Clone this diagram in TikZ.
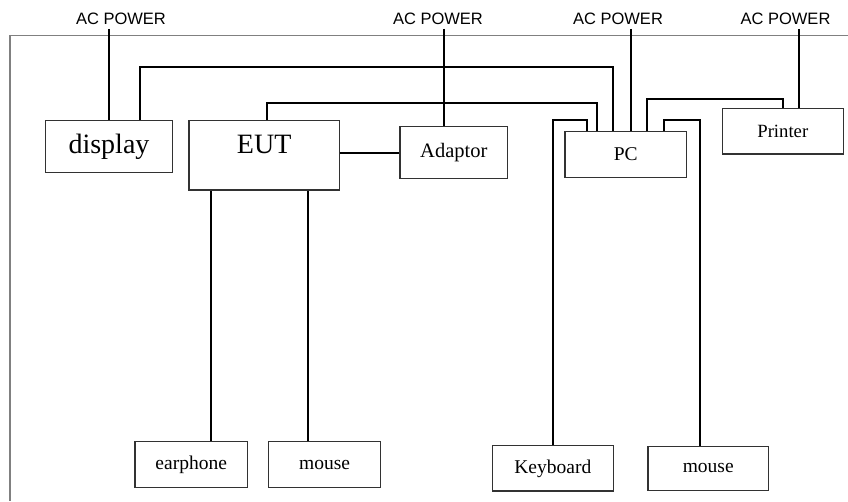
\documentclass[tikz,border=0pt]{standalone}
\usepackage{fontspec}
\setmainfont{Liberation Serif}
\newfontfamily\powerfont{Liberation Sans}
\usetikzlibrary{positioning}
\definecolor{framecolor}{RGB}{128, 128, 128}
\definecolor{boxcolor}{RGB}{50, 50, 50}

\begin{document}
\begin{tikzpicture}[
    x=1pt, y=-1pt,
    box/.style={rectangle, draw=boxcolor, line width=1.2pt, inner sep=0pt, font=\fontsize{19.5}{22}\selectfont},
    bigbox/.style={box, font=\fontsize{28}{32}\selectfont},
    power/.style={font=\powerfont\fontsize{16.5}{18}\selectfont, inner sep=0pt, outer sep=4.5pt, anchor=base},
    cable/.style={line width=2pt, black},
    frameline/.style={line width=1.3pt, framecolor}
]
\useasboundingbox (0,0) rectangle (848,501);

% ========== FRAME ==========
\draw[frameline] (848,35.7) -- (10,35.7) -- (10,501);

% ========== AC POWER ==========
\node[power] (acA) at (121,24.3) {AC POWER};
\node[power] (acB) at (438,24.3) {AC POWER};
\node[power] (acC) at (618,24.3) {AC POWER};
\node[power] (acD) at (785.5,24.3) {AC POWER};

% ========== TOP ROW ==========
\node[bigbox, minimum width=126.6pt, minimum height=51.6pt] (display) at (109,146.5) {display};
\node[bigbox, minimum width=150.3pt, minimum height=69.3pt, text height=19pt, text depth=23.4pt] (eut) at (264.2,155.4) {EUT};
\node[box, font=\fontsize{20.5}{24}\selectfont, minimum width=107.7pt, minimum height=51.6pt] (adaptor) at (453.8,152.5) {Adaptor};
\node[box, minimum width=121.7pt, minimum height=45.6pt] (pc) at (625.8,154.5) {PC};
\node[box, font=\fontsize{18.7}{22}\selectfont, minimum width=121pt, minimum height=45.7pt] (printer) at (782.8,131.2) {Printer};

% ========== BOTTOM ROW ==========
\node[box, minimum width=112.3pt, minimum height=46pt] (earphone) at (191.2,464.7) {earphone};
\node[box, minimum width=112pt, minimum height=46pt, right=20pt of earphone] (mouseA) {mouse};
\node[box, minimum width=121pt, minimum height=45.3pt] (keyboard) at (552.8,468.4) {Keyboard};
\node[box, minimum width=120.6pt, minimum height=44.3pt, right=33.4pt of keyboard] (mouseB) {mouse};

% ports
\coordinate (dispPC) at ([xshift=31pt]display.north);
\coordinate (eutPC) at ([xshift=3pt]eut.north);
\coordinate (eutEar) at ([xshift=19.5pt]earphone.north);
\coordinate (eutMouse) at ([xshift=-16.6pt]mouseA.north);
\coordinate (adPower) at ([xshift=-9.8pt]adaptor.north);
\coordinate (pcKey) at ([xshift=-38.8pt]pc.north);
\coordinate (pcEUT) at ([xshift=-28.5pt]pc.north);
\coordinate (pcDisp) at ([xshift=-12.5pt]pc.north);
\coordinate (pcPower) at ([xshift=4.9pt]pc.north);
\coordinate (pcPrint) at ([xshift=21.2pt]pc.north);
\coordinate (pcMouse) at ([xshift=37.7pt]pc.north);
\coordinate (prPower) at ([xshift=16.2pt]printer.north);
\coordinate (mouseBport) at ([xshift=-8.7pt]mouseB.north);

% ========== CABLES ==========
% power cords
\draw[cable] (display.north |- acA.south) -- (display.north);
\draw[cable] (adPower |- acB.south) -- (adPower);
\draw[cable] (pcPower |- acC.south) -- (pcPower);
\draw[cable] (prPower |- acD.south) -- (prPower);

% to PC
\draw[cable] (dispPC) -- ++(0,-52.7) -| (pcDisp);
\draw[cable] (eutPC) -- ++(0,-17.4) -| (pcEUT);
\draw[cable] (pcKey) -- ++(0,-11) -| (keyboard.north);
\draw[cable] (pcMouse) -- ++(0,-11) -| (mouseBport);
\draw[cable] (pcPrint) -- ++(0,-31.7) -| (printer.north);

% EUT
\draw[cable] (eut.east |- adaptor.west) -- (adaptor.west);
\draw[cable] (eutEar) -- (eutEar |- eut.south);
\draw[cable] (eutMouse) -- (eutMouse |- eut.south);

\end{tikzpicture}
\end{document}
